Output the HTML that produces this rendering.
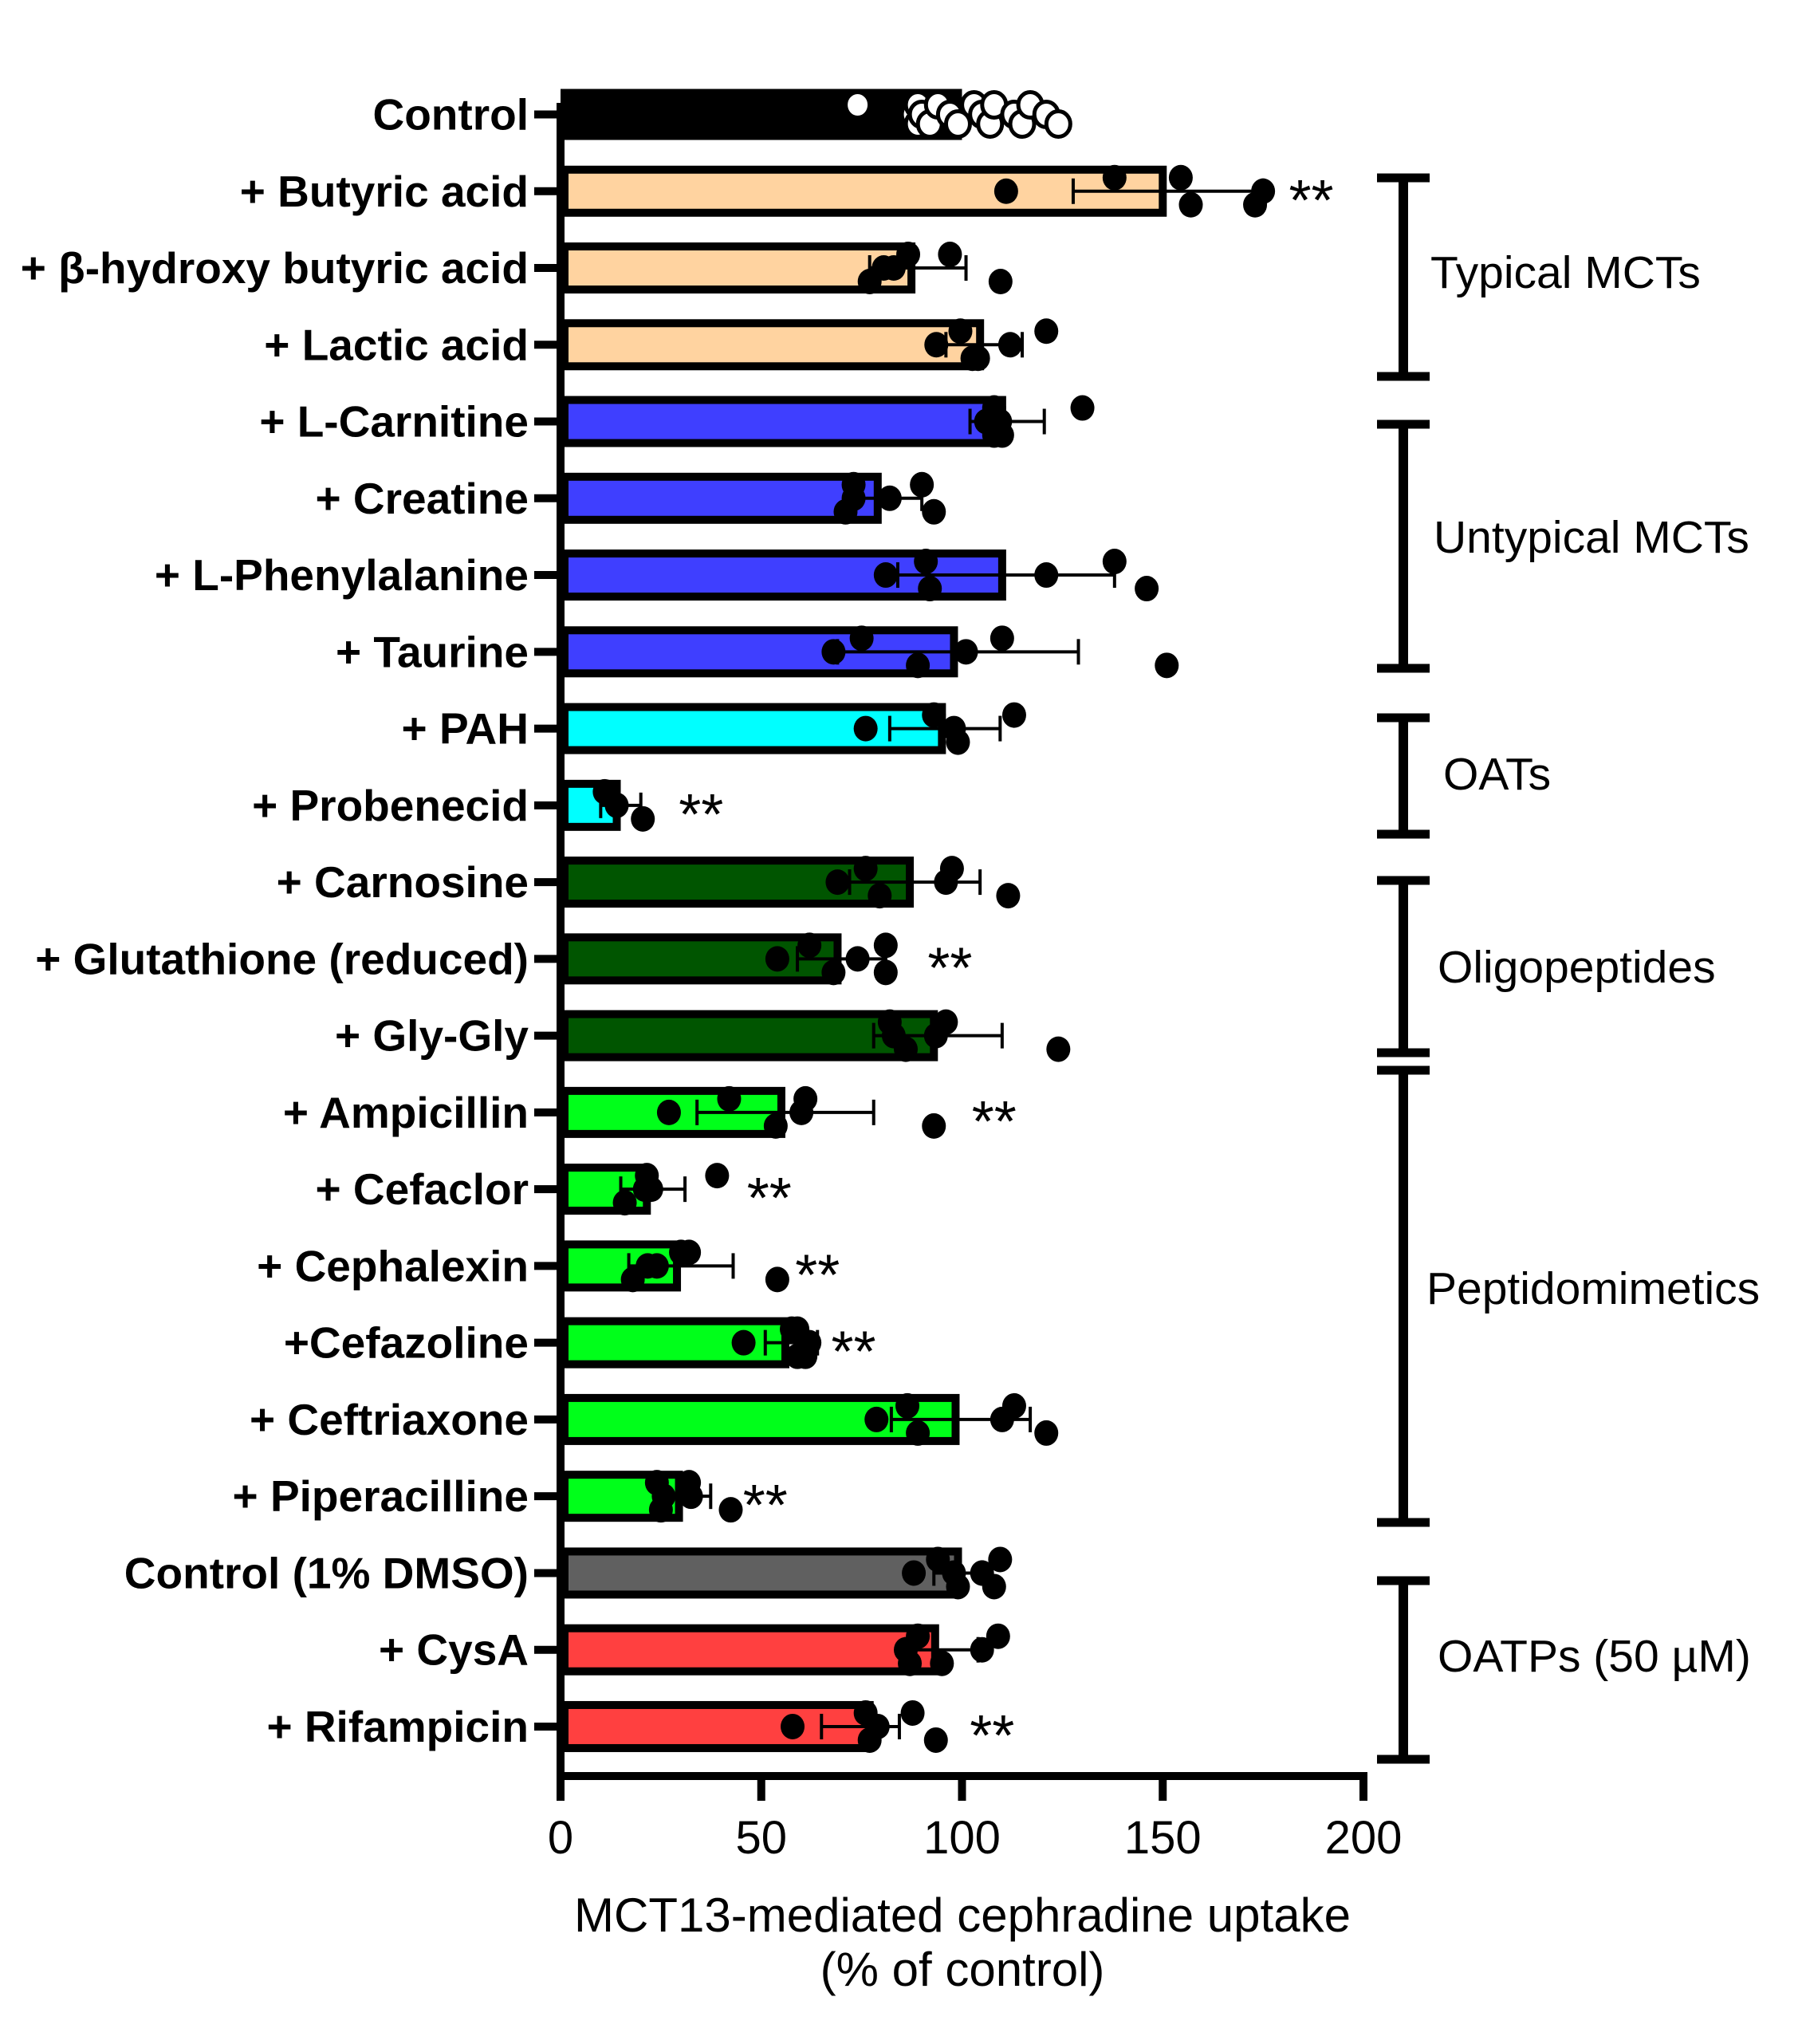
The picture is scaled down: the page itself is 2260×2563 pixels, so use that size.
<!DOCTYPE html>
<html><head><meta charset="utf-8"><style>
html,body{margin:0;padding:0;background:#fff;}
svg{display:block;font-family:"Liberation Sans",Arial,sans-serif;}
</style></head><body>
<svg id="chart" width="2260" height="2563" viewBox="0 0 2260 2563" xmlns="http://www.w3.org/2000/svg"></svg>
<script>
const labels = ["Control","+ Butyric acid","+ \u03b2-hydroxy butyric acid","+ Lactic acid","+ L-Carnitine","+ Creatine","+ L-Phenylalanine","+ Taurine","+ PAH","+ Probenecid","+ Carnosine","+ Glutathione (reduced)","+ Gly-Gly","+ Ampicillin","+ Cefaclor","+ Cephalexin","+Cefazoline","+ Ceftriaxone","+ Piperacilline","Control (1% DMSO)","+ CysA","+ Rifampicin"];
const colors = ["#000000","#FFD3A0","#FFD3A0","#FFD3A0","#3F3FFF","#3F3FFF","#3F3FFF","#3F3FFF","#00FFFF","#00FFFF","#005500","#005500","#005500","#00FF1A","#00FF1A","#00FF1A","#00FF1A","#00FF1A","#00FF1A","#606060","#FF4040","#FF4040"];
const means = [100,151,88.4,105.5,111,80,111,99,96,15,88,70,94,56,22.5,30,57,99.4,30.5,100,94.3,78];
const errLo = [100,127.7,77,96,102,73,84,69,82,10,72,59,78,34,15,17,51,82.4,24.5,93,86,65];
const errHi = [100,175,101,115,120.5,90,138,129,109.5,20,104.5,81,110,78,31,43,64,117,37.4,105,104,84.4];
const points = [
 [74,88,89,89,90,92,94,97,99,103,105,107,108,113,115,117,121,124],
 [111,138,157,175,154.5,173],
 [80.5,86.6,77,83,97,109.6],
 [93.6,99.6,104,112,121,102.6],
 [106,108,108,109.5,130,110],
 [73,73,71,82,90,93],
 [81,91,92,121,138,146],
 [68,75,89,101,110,151],
 [76,93,99,98,113],
 [14,11,20.5],
 [69,76,79.5,96,97.5,111.5],
 [54,62,68,74,81,81],
 [83,82,86,93.5,96,124],
 [27,42,53.6,60,61,93],
 [21,21.5,16,22.6,39],
 [21.7,30,18,24,32,54],
 [45.6,57.6,61,62,59,59],
 [78.7,86.4,89,110,113,121],
 [25.7,32,25,32.5,24,42.4],
 [88,94,99,105,109.5,108,98],
 [86,89,95,105,109,87],
 [57.8,76,77,79,87.7,93.5]
];
const sigRows = [1,9,11,13,14,15,16,18,21];
const sigAt = [187,35,97,108,52,64,73,51,107.5];
const xTicks = [0,50,100,150,200];
const groups = ["Typical MCTs","Untypical MCTs","OATs","Oligopeptides","Peptidomimetics","OATPs (50 \u00b5M)"];
const groupTop = [218,527,895,1099,1337,1977];
const groupBot = [477,843,1051,1325,1914,2211];

const NS="http://www.w3.org/2000/svg";
const svg=document.getElementById('chart');
function mk(tag,attrs,parent){const e=document.createElementNS(NS,tag);for(const k in attrs)e.setAttribute(k,attrs[k]);(parent||svg).appendChild(e);return e;}
const X0=703,X1=1710;
function xs(v){return X0+(v-0)/(200-0)*(X1-X0);}
const Y0=143.5,STEP=96.26;
function ys(i){return Y0+i*STEP;}
const BH=64;

labels.forEach((lab,i)=>{
  const y=ys(i), xe=xs(means[i]);
  const g=mk('g',{});
  
  
  mk('rect',{x:X0+5,y:y-BH/2+5,width:Math.max(xe-X0-10,0),height:BH-10,fill:colors[i],stroke:'#000','stroke-width':10},g);
  const t=mk('text',{x:663,y:y+19,'text-anchor':'end','font-size':55,'font-weight':'bold',fill:'#000'});
  t.textContent=lab;
  
  
  mk('line',{x1:670,x2:703,y1:y,y2:y,stroke:'#000','stroke-width':10});
});
labels.forEach((lab,i)=>{
  if(errHi[i]===errLo[i])return;
  const y=ys(i);
  const g=mk('g',{stroke:'#000','stroke-width':4});
  
  
  mk('line',{x1:xs(errLo[i]),x2:xs(errHi[i]),y1:y,y2:y},g);
  mk('line',{x1:xs(errLo[i]),x2:xs(errLo[i]),y1:y-16,y2:y+16},g);
  mk('line',{x1:xs(errHi[i]),x2:xs(errHi[i]),y1:y-16,y2:y+16},g);
});
const jit=[0,-17,17,0,-17,17,0,-17,17,0,-17,17,0,-17,17,0,-17,17];
points.forEach((arr,i)=>{
  const y=ys(i);
  arr.forEach((v,k)=>{
    const c=mk('ellipse',{cx:xs(v),cy:y+(i===0?(k%3-1)*12:jit[k]),rx:15,ry:16,fill:i===0?'#fff':'#000',stroke:'#000','stroke-width':i===0?5:0});
    
    
  });
});
sigRows.forEach((r,k)=>{
  const t=mk('text',{x:xs(sigAt[k]),y:ys(r)+36,'text-anchor':'middle','font-size':72,fill:'#000'});
  t.textContent='**';
  
  
});
const ya=mk('line',{x1:703,x2:703,y1:129,y2:2232,stroke:'#000','stroke-width':10});


const xa=mk('line',{x1:698,x2:1715,y1:2227,y2:2227,stroke:'#000','stroke-width':10});


xTicks.forEach(v=>{
  mk('line',{x1:xs(v),x2:xs(v),y1:2222,y2:2258,stroke:'#000','stroke-width':10});
  const t=mk('text',{x:xs(v),y:2324,'text-anchor':'middle','font-size':58,fill:'#000'});
  t.textContent=v;
  
  
});
const t1=mk('text',{x:1207,y:2422,'text-anchor':'middle','font-size':60,fill:'#000'});
t1.textContent='MCT13-mediated cephradine uptake';


const t2=mk('text',{x:1207,y:2490,'text-anchor':'middle','font-size':60,fill:'#000'});
t2.textContent='(% of control)';


const gx=[1794,1798,1810,1803,1789,1803];
const gy=[361,693,990,1232,1635,2096];
groups.forEach((name,k)=>{
  const g=mk('g',{stroke:'#000'});
  
  
  mk('line',{x1:1760,x2:1760,y1:groupTop[k],y2:groupBot[k],'stroke-width':12},g);
  mk('line',{x1:1727,x2:1793,y1:groupTop[k]+5,y2:groupTop[k]+5,'stroke-width':11},g);
  mk('line',{x1:1727,x2:1793,y1:groupBot[k]-5,y2:groupBot[k]-5,'stroke-width':11},g);
  const t=mk('text',{x:gx[k],y:gy[k],'font-size':57,fill:'#000'});
  t.textContent=name;
  
  
});
</script>
</body></html>
